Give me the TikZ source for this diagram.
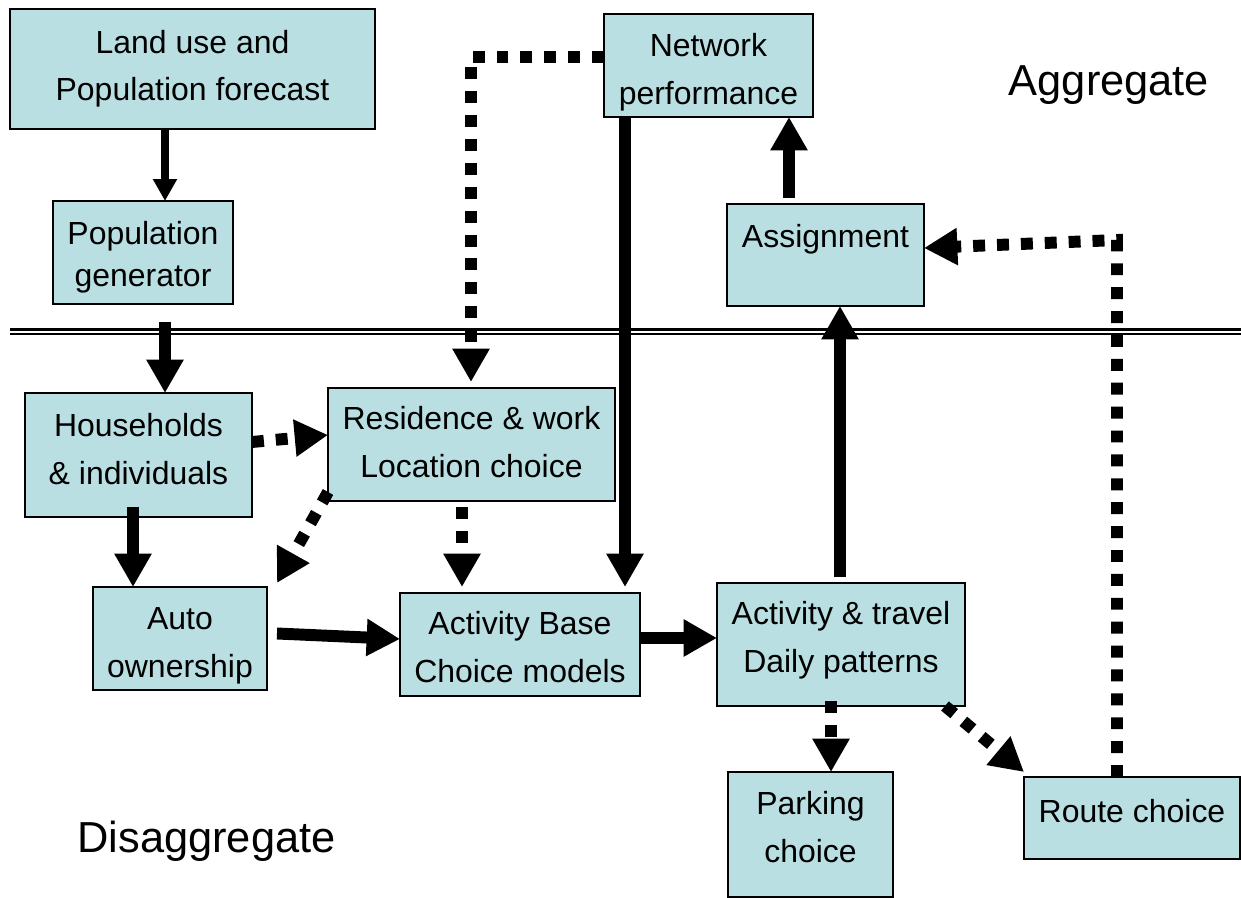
\documentclass[tikz,border=0pt]{standalone}
\usepackage{fontspec}
\setmainfont{Liberation Sans}
\usetikzlibrary{arrows.meta,calc}
\definecolor{boxfill}{RGB}{185,223,227}
\begin{document}
\begin{tikzpicture}[x=0.02cm,y=-0.02cm,
  box/.style={draw=black, line width=1pt, fill=boxfill, inner sep=0pt, outer sep=0pt,
    align=center, font=\fontsize{18.2}{27}\selectfont},
  solid arrow/.style={line width=6.8pt, -{Triangle[length=19pt,width=20pt]}},
  thin arrow/.style={line width=4pt, -{Triangle[length=12.5pt,width=13pt]}},
  dot arrow/.style={line width=6.8pt, dash pattern=on 6.8pt off 6.8pt,
    -{Triangle[length=19pt,width=20pt]}},
  region/.style={font=\fontsize{24.7}{30}\selectfont, anchor=base},
  divider/.style={line width=1.3pt}
]
\useasboundingbox (0,0) rectangle (1241,898);

% boxes
\node[box, minimum width=7.30cm, minimum height=2.40cm] (land) at (192.5,69)
  {Land use and\\Population forecast};
\node[box, minimum width=3.60cm, minimum height=2.06cm,
  font=\fontsize{18.2}{23.8}\selectfont, text height=42.8pt] (popgen) at (143,252.5)
  {Population\\generator};
\node[box, minimum width=4.18cm, minimum height=2.06cm, text height=48pt] (net) at (708.5,65.5)
  {Network\\performance};
\node[box, minimum width=3.94cm, minimum height=2.04cm, text depth=21.5pt] (assign) at (825.5,255)
  {Assignment};
\node[box, minimum width=4.54cm, minimum height=2.48cm, text height=33.6pt] (house) at (138.5,455)
  {Households\\\& individuals};
\node[box, minimum width=5.74cm, minimum height=2.26cm, text height=37.5pt] (resid) at (471.5,444.5)
  {Residence \& work\\Location choice};
\node[box, minimum width=3.48cm, minimum height=2.06cm, text height=48pt] (auto) at (180,638.5)
  {Auto\\ownership};
\node[box, minimum width=4.80cm, minimum height=2.06cm, text height=43.2pt] (actbase) at (520,644.5)
  {Activity Base\\Choice models};
\node[box, minimum width=4.96cm, minimum height=2.46cm, text height=35.5pt] (acttravel) at (841,644.5)
  {Activity \& travel\\Daily patterns};
\node[box, minimum width=3.30cm, minimum height=2.50cm, text height=31.9pt] (parking) at (810.5,834.5)
  {Parking\\choice};
\node[box, minimum width=4.32cm, minimum height=1.64cm, text depth=8pt] (route) at (1132,818)
  {Route choice};

% region labels
\node[region] (agg) at (1109,96) {Aggregate};
\node[region] (disagg) at (206.5,852) {Disaggregate};

% divider
\draw[divider] (10,329.5) -- (1241,329.5);
\draw[divider] (10,334.3) -- (1241,334.3);

% connectors
\draw[thin arrow] (land.south -| 165,0) -- (popgen.north -| 165,0);
\draw[solid arrow] ($(popgen.south -| 165,0)+(0,18)$) -- (house.north -| 165,0);
\draw[solid arrow] ($(house.south -| 133,0)+(0,-10)$) -- (auto.north -| 133,0);
\draw[dot arrow] (house.east |- 0,442) -- (resid.west |- 0,435);
\draw[dot arrow] (resid.west |- 0,492) -- ($(auto.north east)+(10,-4)$);
\draw[dot arrow] ($(resid.south -| 462,0)+(0,6)$) -- ($(actbase.north -| 462,0)+(0,-6)$);
\draw[solid arrow] ($(auto.east)+(10,-5)$) -- (actbase.west |- 0,639);
\draw[solid arrow] (net.south -| 625,0) -- ($(actbase.north -| 625,0)+(0,-6)$);
\draw[dot arrow] (net.west |- 0,57) -| ($(resid.north -| 471,0)+(0,-6)$);
\draw[solid arrow] ($(assign.north -| 789,0)+(0,-6)$) -- (net.south -| 789,0);
\draw[solid arrow] ($(acttravel.north -| 840,0)+(0,-6)$) -- (assign.south -| 840,0);
\draw[solid arrow] (actbase.east |- 0,638) -- (acttravel.west |- 0,638);
\draw[dot arrow] ($(acttravel.south -| 831,0)+(0,-5)$) -- (parking.north -| 831,0);
\draw[dot arrow] (acttravel.south -| 945,0) -- ($(route.north west)+(0,-5)$);
\coordinate (rc) at (1117,240);
\draw[dot arrow] (route.north -| rc) -- (rc) -- (assign.east |- 0,248);
\end{tikzpicture}
\end{document}
